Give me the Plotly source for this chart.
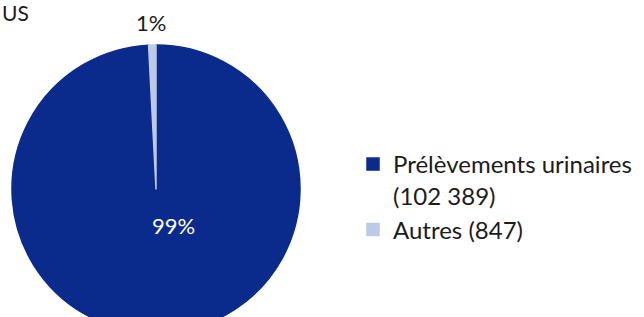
import plotly.graph_objects as go

# Data
categories = ["Prélèvements urinaires<br>(102 389)", "Autres (847)"]
values = [102389, 847]
colors = ["#0b2b8c", "#bccae8"]
title_text = "US"

total = sum(values)
pct_labels = [f"{round(v / total * 100)}%" for v in values]

W, H = 644, 345
r_left, r_right, r_top = 12, 300, 45
diam = r_right - r_left
FONT = "Lato"
TXT = "#1c1c1c"

fig = go.Figure(
    go.Pie(
        labels=categories,
        values=values,
        sort=False,
        direction="clockwise",
        rotation=0,
        marker=dict(colors=colors, line=dict(color=colors, width=1.5)),
        textinfo="none",
        domain=dict(
            x=[r_left / W, r_right / W],
            y=[1 - (r_top + diam) / H, 1 - r_top / H],
        ),
        hoverinfo="label+value+percent",
        showlegend=True,
    )
)

fig.update_layout(
    width=W,
    height=H,
    margin=dict(l=0, r=0, t=0, b=0),
    paper_bgcolor="#ffffff",
    plot_bgcolor="#ffffff",
    font=dict(family=FONT, color=TXT, size=24),
    legend=dict(
        x=353 / W,
        xanchor="left",
        y=1 - 142 / H,
        yanchor="top",
        valign="top",
        font=dict(size=24, family=FONT, color=TXT),
        itemclick=False,
        tracegroupgap=0,
    ),
    annotations=[
        dict(
            text=title_text,
            x=0,
            y=1 - 12 / H,
            xref="paper",
            yref="paper",
            xanchor="left",
            yanchor="middle",
            showarrow=False,
            font=dict(size=21, family=FONT, color=TXT),
        ),
        dict(
            text=pct_labels[1],
            x=151 / W,
            y=1 - 22 / H,
            xref="paper",
            yref="paper",
            xanchor="center",
            yanchor="middle",
            showarrow=False,
            font=dict(size=22, family=FONT, color=TXT),
        ),
        dict(
            text=pct_labels[0],
            x=173 / W,
            y=1 - 226 / H,
            xref="paper",
            yref="paper",
            xanchor="center",
            yanchor="middle",
            showarrow=False,
            font=dict(size=22, family=FONT, color="#ffffff"),
        ),
    ],
)

fig.write_html(
    "out.html",
    config={"displayModeBar": False},
    post_script="document.body.style.margin='0';document.body.style.overflow='hidden';document.documentElement.style.overflow='hidden';",
)
